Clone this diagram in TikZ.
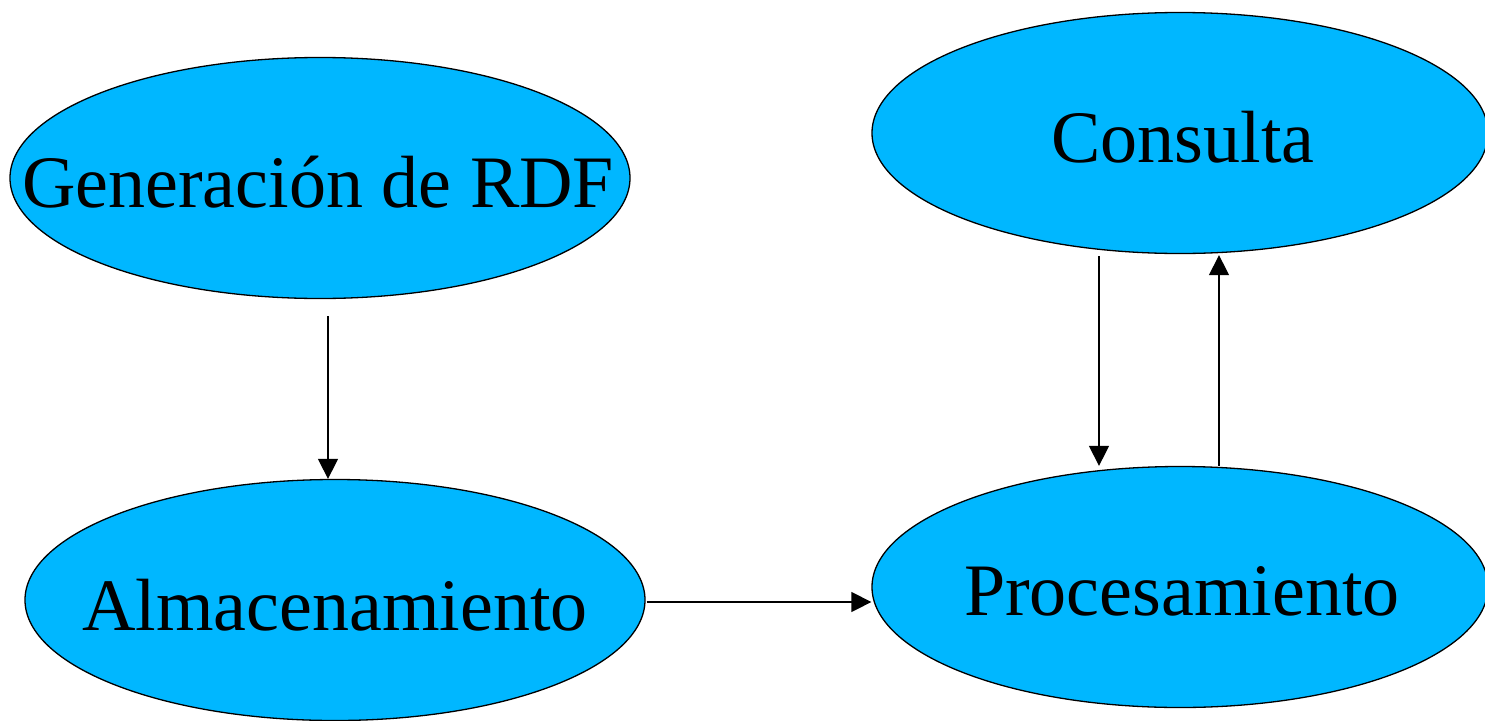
\documentclass[tikz,border=0pt]{standalone}
\usepackage{fontspec}
\setmainfont{Liberation Serif}
\usetikzlibrary{arrows.meta,shapes.geometric}
\definecolor{bubblefill}{RGB}{0,183,255}
\tikzset{
  bubble/.style={ellipse, draw=black, line width=1.3pt, fill=bubblefill, inner sep=0pt, minimum width=620pt, minimum height=241pt},
  lbl/.style={inner sep=0pt, anchor=base, font=\fontsize{74}{80}\selectfont},
  arr/.style={line width=1.4pt, -{Triangle[length=20pt,width=20pt]}}
}
\begin{document}
\begin{tikzpicture}[x=1pt,y=-1pt]
\useasboundingbox (0,0) rectangle (1485,720);
\node[bubble] (gen) at (320,178) {};
\node[bubble] (alm) at (335,600) {};
\node[bubble, minimum width=616pt] (cons) at (1180,133) {};
\node[bubble, minimum width=616pt] (proc) at (1180,587) {};
\node[lbl] (genT) at (318,207) {Generación de RDF};
\node[lbl] (almT) at (335,630) {Almacenamiento};
\node[lbl] (consT) at (1183,162) {Consulta};
\node[lbl] (procT) at (1182,615) {Procesamiento};
\draw[arr] ([xshift=8pt,yshift=-17pt]gen.south) -- ([xshift=-7pt]alm.north);
\draw[arr] ([shift={(1pt,-2pt)}]alm.east) -- ([yshift=-15pt]proc.west);
\draw[arr] ([shift={(-81pt,-2pt)}]cons.south) -- ([xshift=-81pt]proc.north);
\draw[arr] ([xshift=39pt]proc.north) -- ([shift={(39pt,-1pt)}]cons.south);
\end{tikzpicture}
\end{document}
